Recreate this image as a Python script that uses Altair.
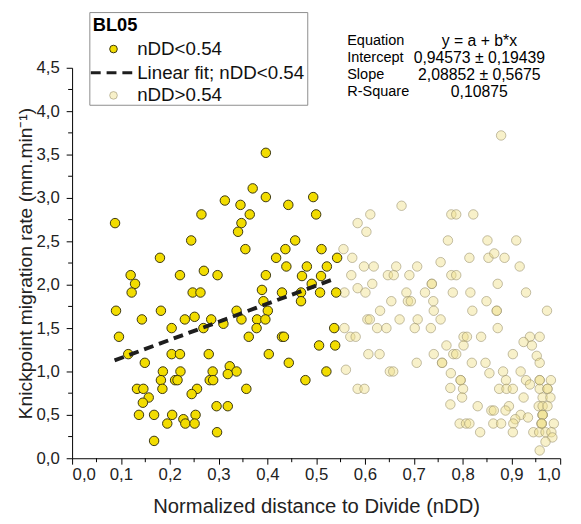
import altair as alt
import pandas as pd

# ---- data ----
low_x = [0.397, 0.088, 0.370, 0.397, 0.494, 0.313, 0.345, 0.443, 0.265, 0.364, 0.500, 0.347, 0.340,
         0.244, 0.457, 0.355, 0.437, 0.511, 0.180, 0.418, 0.439, 0.481, 0.522, 0.120, 0.221, 0.270,
         0.298, 0.397, 0.471, 0.510, 0.129, 0.491, 0.122, 0.247, 0.263, 0.389, 0.430, 0.469, 0.508,
         0.543, 0.541,
         0.392, 0.469, 0.090, 0.182, 0.337, 0.401, 0.143, 0.231, 0.251, 0.285, 0.347, 0.379, 0.396,
         0.310, 0.204, 0.269, 0.378, 0.537, 0.096, 0.362, 0.430, 0.434, 0.506, 0.539, 0.115, 0.204,
         0.221, 0.280, 0.403, 0.149, 0.444, 0.186, 0.222, 0.288, 0.323, 0.337, 0.521, 0.182, 0.211,
         0.216, 0.282, 0.289, 0.319, 0.478, 0.133, 0.146, 0.185, 0.256, 0.357, 0.245, 0.157, 0.145,
         0.296, 0.319, 0.137, 0.168, 0.205, 0.253, 0.228, 0.232, 0.251, 0.195, 0.297, 0.168]
low_y = [3.52, 2.71, 3.11, 3.01, 3.01, 2.97, 2.92, 2.92, 2.81, 2.81, 2.81, 2.71, 2.61,
         2.51, 2.51, 2.41, 2.41, 2.41, 2.31, 2.31, 2.21, 2.21, 2.21, 2.11, 2.11, 2.16,
         2.11, 2.11, 2.10, 2.10, 2.01, 2.01, 1.91, 1.91, 1.91, 1.94, 1.91, 1.91, 1.91,
         2.31, 1.91,
         1.81, 1.81, 1.70, 1.70, 1.70, 1.70, 1.60, 1.60, 1.63, 1.60, 1.60, 1.60, 1.60,
         1.55, 1.50, 1.50, 1.50, 1.50, 1.40, 1.40, 1.40, 1.40, 1.30, 1.30, 1.20, 1.20,
         1.20, 1.20, 1.20, 1.10, 1.10, 1.00, 1.00, 1.00, 1.06, 1.00, 1.00, 0.90, 0.90,
         0.90, 0.90, 0.90, 0.97, 0.90, 0.80, 0.80, 0.80, 0.80, 0.80, 0.74, 0.70, 0.64,
         0.60, 0.60, 0.50, 0.50, 0.50, 0.50, 0.45, 0.40, 0.40, 0.40, 0.30, 0.20]

high_x = [0.879, 0.675, 0.611, 0.777, 0.787, 0.822, 0.585, 0.603, 0.770, 0.851, 0.910, 0.556, 0.574,
          0.814, 0.853, 0.865, 0.886, 0.755, 0.598, 0.618, 0.664, 0.707, 0.917, 0.572, 0.647, 0.659,
          0.691, 0.777, 0.787, 0.585, 0.615, 0.737, 0.737, 0.872, 0.558, 0.601, 0.685, 0.723, 0.780,
          0.816, 0.930, 0.654, 0.688, 0.694, 0.740, 0.849, 0.631, 0.741, 0.820, 0.870, 0.870, 0.973,
          0.605, 0.610, 0.671, 0.708, 0.755, 0.558, 0.625, 0.644, 0.702, 0.735, 0.872, 0.570, 0.581,
          0.802, 0.809, 0.838, 0.938, 0.958, 0.767, 0.802, 0.925, 0.942, 0.607, 0.630, 0.741, 0.781,
          0.787, 0.903, 0.952, 0.561, 0.651, 0.658, 0.706, 0.758, 0.758, 0.819, 0.847, 0.958, 0.776,
          0.855, 0.883, 0.919, 0.796, 0.796, 0.889, 0.930, 0.958, 0.958, 0.981, 0.585, 0.599, 0.775,
          0.801, 0.875, 0.890, 0.903, 0.938, 0.958, 0.974, 0.974, 0.799, 0.925, 0.964, 0.980, 0.775,
          0.831, 0.895, 0.956, 0.964, 0.974, 0.859, 0.864, 0.888, 0.919, 0.934, 0.964, 0.964, 0.964,
          0.908, 0.794, 0.807, 0.814, 0.863, 0.879, 0.904, 0.962, 0.962, 0.962, 0.987, 0.836, 0.903,
          0.945, 0.957, 0.970, 0.982, 0.984, 0.970, 0.958]
high_y = [3.72, 2.91, 2.81, 2.81, 2.81, 2.81, 2.71, 2.61, 2.51, 2.51, 2.51, 2.41, 2.31,
          2.31, 2.31, 2.36, 2.31, 2.26, 2.21, 2.21, 2.21, 2.21, 2.21, 2.11, 2.11, 2.11,
          2.11, 2.11, 2.11, 1.96, 2.01, 2.01, 2.01, 2.01, 1.91, 1.91, 1.91, 1.91, 1.91,
          1.91, 1.91, 1.81, 1.81, 1.81, 1.81, 1.81, 1.70, 1.70, 1.70, 1.70, 1.70, 1.70,
          1.60, 1.60, 1.60, 1.60, 1.60, 1.50, 1.50, 1.50, 1.50, 1.50, 1.50, 1.40, 1.40,
          1.40, 1.40, 1.40, 1.40, 1.40, 1.30, 1.30, 1.34, 1.30, 1.20, 1.20, 1.20, 1.20,
          1.20, 1.20, 1.18, 1.02, 1.00, 1.00, 1.10, 1.10, 1.10, 1.10, 1.10, 1.10, 0.98,
          0.98, 1.00, 1.00, 0.90, 0.90, 0.90, 0.90, 0.90, 0.90, 0.90, 0.80, 0.80, 0.81,
          0.80, 0.80, 0.80, 0.80, 0.85, 0.80, 0.80, 0.80, 0.70, 0.70, 0.70, 0.70, 0.62,
          0.60, 0.60, 0.60, 0.60, 0.60, 0.55, 0.55, 0.55, 0.50, 0.47, 0.50, 0.50, 0.50,
          0.45, 0.40, 0.40, 0.40, 0.40, 0.40, 0.40, 0.40, 0.40, 0.40, 0.40, 0.30, 0.30,
          0.30, 0.30, 0.30, 0.30, 0.24, 0.19, 0.09]

intercept = 0.94573
slope = 2.08852
fit_x = [0.087, 0.54]
fit_y = [intercept + slope * v for v in fit_x]

eq_names = ["Equation", "Intercept", "Slope", "R-Square"]
eq_values = ["y = a + b*x", "0,94573 \u00b1 0,19439", "2,08852 \u00b1 0,5675", "0,10875"]
legend_title = "BL05"
legend_labels = ["nDD<0.54", "Linear fit; nDD<0.54", "nDD>0.54"]

x_major = [0.0, 0.1, 0.2, 0.3, 0.4, 0.5, 0.6, 0.7, 0.8, 0.9, 1.0]
x_minor = [0.05, 0.15, 0.25, 0.35, 0.45, 0.55, 0.65, 0.75, 0.85, 0.95]
y_major = [0.0, 0.5, 1.0, 1.5, 2.0, 2.5, 3.0, 3.5, 4.0, 4.5]
y_minor = [0.25, 0.75, 1.25, 1.75, 2.25, 2.75, 3.25, 3.75, 4.25]

FONT = "Liberation Sans"
W, H = 495, 396
YELLOW = "#f2dc00"
YSTROKE = "#3a3610"
PALE = "#efe08a"
PSTROKE = "#9b9370"

low_df = pd.DataFrame({"x": low_x, "y": low_y})
high_df = pd.DataFrame({"x": high_x, "y": high_y})
fit_df = pd.DataFrame({"x": fit_x, "y": fit_y})

lab_expr = "replace(format(datum.value, '.1f'), '.', ',')"
xscale = alt.Scale(domain=[0, 1], nice=False, zero=False)
yscale = alt.Scale(domain=[0, 4.5], nice=False, zero=False)

xaxis = alt.Axis(values=x_major, labelExpr=lab_expr, tickSize=6, tickColor="black",
                 domainColor="black", labelFontSize=17, labelColor="#222222", labelFont=FONT,
                 labelPadding=3, grid=False, title="Normalized distance to Divide (nDD)",
                 titleFont=FONT, titleFontSize=20.5, titleFontWeight="normal", titleColor="#222222",
                 titleY=55, titleBaseline="alphabetic")
yaxis = alt.Axis(values=y_major, labelExpr=lab_expr, tickSize=6, tickColor="black",
                 domainColor="black", labelFontSize=17, labelColor="#222222", labelFont=FONT,
                 labelPadding=7, grid=False, title="Knickpoint migration rate (mm.min\u207b\u00b9)",
                 titleFont=FONT, titleFontSize=19.5, titleFontWeight="normal", titleColor="#222222",
                 titleX=-41, titleY=H / 2, titleAngle=-90, titleBaseline="alphabetic")

X = alt.X("x:Q", scale=xscale, axis=xaxis)
Y = alt.Y("y:Q", scale=yscale, axis=yaxis)

high_pts = alt.Chart(high_df).mark_circle(
    size=92, fill=PALE, fillOpacity=0.45, stroke=PSTROKE, strokeOpacity=0.6, strokeWidth=1
).encode(x=X, y=Y)

low_pts = alt.Chart(low_df).mark_circle(
    size=92, fill=YELLOW, fillOpacity=1, stroke=YSTROKE, strokeWidth=1
).encode(x=X, y=Y)

fit_line = alt.Chart(fit_df).mark_line(
    color="#1e1e1e", strokeWidth=4, strokeDash=[10, 6]
).encode(x=X, y=Y)

xminor = alt.Chart(pd.DataFrame({"x": x_minor})).mark_rule(color="black", strokeWidth=1).encode(
    x=X, y=alt.value(H), y2=alt.value(H + 4))
yminor = alt.Chart(pd.DataFrame({"y": y_minor})).mark_rule(color="black", strokeWidth=1).encode(
    y=Y, x=alt.value(0), x2=alt.value(-4))

layers = [high_pts, low_pts, fit_line, xminor, yminor]

# legend box (custom)
LX0, LX1, LY0, LY1 = 18, 239, -56, 38
legend_box = alt.Chart(pd.DataFrame({"k": [0]})).mark_rect(
    fill="white", stroke="#8c8c8c", strokeWidth=1
).encode(x=alt.value(LX0), x2=alt.value(LX1), y=alt.value(LY0), y2=alt.value(LY1))
layers.append(legend_box)

layers.append(alt.Chart(pd.DataFrame({"t": [legend_title]})).mark_text(
    font=FONT, fontSize=18.5, fontWeight="bold", align="left", baseline="middle", color="black"
).encode(text="t:N", x=alt.value(21), y=alt.value(-43)))

item_y = [-19, 5, 28]
for i, lab in enumerate(legend_labels):
    layers.append(alt.Chart(pd.DataFrame({"t": [lab]})).mark_text(
        font=FONT, fontSize=19, align="left", baseline="middle", color="#111111"
    ).encode(text="t:N", x=alt.value(66), y=alt.value(item_y[i])))

layers.append(alt.Chart(pd.DataFrame({"k": [0]})).mark_point(
    shape="circle", size=60, filled=True, fill=YELLOW, stroke=YSTROKE, strokeWidth=1, opacity=1
).encode(x=alt.value(42), y=alt.value(item_y[0])))
layers.append(alt.Chart(pd.DataFrame({"k": [0]})).mark_point(
    shape="circle", size=60, filled=True, fill=PALE, fillOpacity=0.45, stroke=PSTROKE,
    strokeOpacity=0.6, strokeWidth=1
).encode(x=alt.value(42), y=alt.value(item_y[2])))
layers.append(alt.Chart(pd.DataFrame({"k": [0]})).mark_rule(
    color="#1e1e1e", strokeWidth=3, strokeDash=[10, 6]
).encode(x=alt.value(19), x2=alt.value(65), y=alt.value(item_y[1])))

# equation table
for i, (nm, val) in enumerate(zip(eq_names, eq_values)):
    yy = -27 + 17.3 * i
    layers.append(alt.Chart(pd.DataFrame({"t": [nm]})).mark_text(
        font=FONT, fontSize=14.7, align="left", baseline="middle", color="black"
    ).encode(text="t:N", x=alt.value(279), y=alt.value(yy)))
    layers.append(alt.Chart(pd.DataFrame({"t": [val]})).mark_text(
        font=FONT, fontSize=16, align="center", baseline="middle", color="black"
    ).encode(text="t:N", x=alt.value(413), y=alt.value(yy)))

chart = alt.layer(*layers).properties(
    width=W, height=H,
    autosize=alt.AutoSizeParams(type="none"),
    padding={"left": 65, "top": 57, "right": 13, "bottom": 60},
    background="white",
).configure_view(stroke=None)

chart.save("out.html", embed_options={"renderer": "svg", "actions": False})
